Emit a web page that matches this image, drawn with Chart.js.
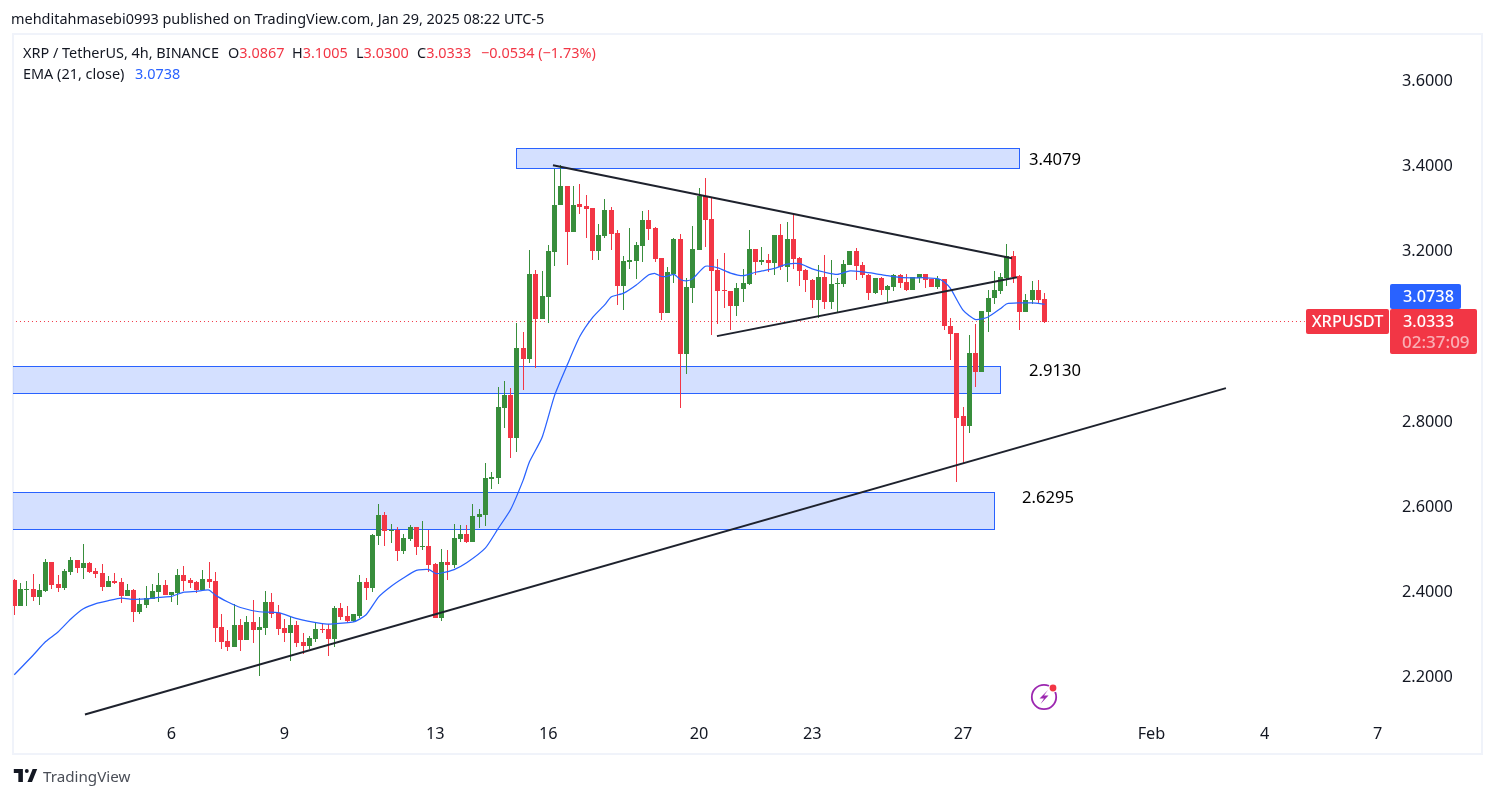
<!DOCTYPE html>
<html>
<head>
<meta charset="utf-8">
<title>XRPUSDT 4h</title>
<script src="https://cdn.jsdelivr.net/npm/chart.js@4/dist/chart.umd.min.js"></script>
<style>
    html, body { margin: 0; padding: 0; background: #fff; overflow: hidden; }
    body { width: 1494px; height: 798px; position: relative; font-family: "Noto Sans", sans-serif; color: #131722; }
    #frame { position: absolute; left: 12px; top: 33px; width: 1467px; height: 718px; border: 2px solid #f0f3fa; }
    #chart { position: absolute; left: 0; top: 0; }
    .txt { position: absolute; white-space: nowrap; font-size: 14.45px; line-height: 18px; }
    .red { color: #f23645; }
    .blue { color: #2962ff; }
    #bolt { position: absolute; left: 1028px; top: 681px; }
    #logo { position: absolute; left: 13px; top: 769px; }
</style>
</head>
<body>
<div id="frame"></div>
<canvas id="chart" width="1494" height="798"></canvas>
<div class="txt" style="left:11px;top:10px">mehditahmasebi0993 published on TradingView.com, Jan 29, 2025 08:22 UTC-5</div>
<div class="txt" style="left:23px;top:44px">XRP / TetherUS, 4h, BINANCE</div>
<div class="txt" style="left:228px;top:44px">O<span class="red">3.0867</span></div>
<div class="txt" style="left:292px;top:44px">H<span class="red">3.1005</span></div>
<div class="txt" style="left:356px;top:44px">L<span class="red">3.0300</span></div>
<div class="txt" style="left:417px;top:44px">C<span class="red">3.0333</span></div>
<div class="txt red" style="left:481px;top:44px">−0.0534 (−1.73%)</div>
<div class="txt" style="left:23px;top:65px">EMA (21, close)</div>
<div class="txt blue" style="left:135px;top:65px">3.0738</div>
<svg id="bolt" width="32" height="32" viewBox="0 0 32 32">
    <circle cx="16" cy="16" r="12.2" fill="none" stroke="#9c27b0" stroke-width="1.8"/>
    <path d="M20 9 L11.5 17.5 L16 17.5 L12.5 23 L20.5 14.5 L16 14.5 Z" fill="#9c27b0"/>
    <circle cx="25" cy="7" r="4.6" fill="#fff"/>
    <circle cx="25" cy="7" r="3.4" fill="#f23645"/>
</svg>
<svg id="logo" width="25" height="13" viewBox="0 0 36 20"><path d="M14 0H0v6h7v14h7V0Z" fill="#131722"/><circle cx="20" cy="3" r="3" fill="#131722"/><path d="M28 20h-7l8-20h7l-8 20Z" fill="#131722"/></svg>
<div class="txt" style="left:43px;top:766px;font-size:15.2px;line-height:20px;color:#4a4e57">TradingView</div>

<script>
// candles, 4h
const opens = [2.426,2.365,2.402,2.405,2.386,2.400,2.468,2.417,2.407,2.445,2.473,2.454,2.466,2.447,2.442,2.409,2.424,2.421,2.388,2.402,
    2.351,2.367,2.381,2.398,2.414,2.391,2.395,2.438,2.426,2.421,2.402,2.428,2.424,2.316,2.283,2.269,2.320,2.285,2.327,2.309,
    2.313,2.374,2.348,2.313,2.301,2.320,2.280,2.271,2.287,2.311,2.311,2.287,2.360,2.341,2.330,2.341,2.421,2.407,2.529,2.578,
    2.541,2.543,2.494,2.522,2.550,2.503,2.506,2.463,2.337,2.468,2.461,2.522,2.534,2.515,2.574,2.578,2.663,2.665,2.830,2.860,
    2.759,2.970,2.945,3.144,3.039,3.090,3.196,3.306,3.351,3.243,3.309,3.304,3.299,3.198,3.233,3.294,3.240,3.116,3.172,3.175,
    3.210,3.271,3.252,3.182,3.053,3.146,3.226,2.956,3.111,3.201,3.327,3.273,3.154,3.107,3.104,3.069,3.109,3.121,3.203,3.172,
    3.177,3.170,3.236,3.161,3.226,3.182,3.154,3.130,3.083,3.137,3.078,3.121,3.121,3.165,3.198,3.165,3.142,3.100,3.135,3.107,
    3.114,3.142,3.125,3.107,3.135,3.144,3.132,3.114,3.132,3.022,3.006,2.811,2.787,2.959,2.914,3.055,3.088,3.104,3.135,3.186,
    3.139,3.055,3.083,3.107,3.0867];
const highs = [2.428,2.419,2.424,2.440,2.417,2.476,2.468,2.438,2.452,2.480,2.473,2.510,2.468,2.454,2.463,2.435,2.442,2.431,2.417,2.405,
    2.384,2.412,2.417,2.442,2.426,2.398,2.452,2.459,2.431,2.424,2.449,2.468,2.445,2.346,2.309,2.370,2.334,2.341,2.379,2.339,
    2.400,2.395,2.367,2.334,2.339,2.330,2.301,2.294,2.327,2.323,2.323,2.365,2.372,2.365,2.346,2.438,2.431,2.534,2.604,2.586,
    2.557,2.550,2.534,2.555,2.550,2.564,2.543,2.466,2.499,2.496,2.557,2.555,2.555,2.604,2.593,2.701,2.679,2.879,2.893,2.877,
    3.029,3.008,3.201,3.154,3.151,3.212,3.391,3.400,3.351,3.351,3.355,3.330,3.299,3.262,3.320,3.301,3.248,3.186,3.252,3.219,
    3.292,3.294,3.255,3.182,3.161,3.229,3.238,3.135,3.257,3.346,3.370,3.323,3.179,3.194,3.104,3.123,3.156,3.248,3.203,3.208,
    3.191,3.236,3.262,3.266,3.287,3.184,3.156,3.132,3.165,3.189,3.177,3.135,3.177,3.200,3.205,3.172,3.144,3.135,3.137,3.118,
    3.144,3.146,3.144,3.137,3.146,3.144,3.132,3.139,3.132,3.041,3.006,2.832,3.001,3.027,3.057,3.107,3.151,3.147,3.215,3.198,
    3.142,3.097,3.128,3.130,3.1005];
const lows = [2.344,2.365,2.365,2.377,2.367,2.398,2.405,2.398,2.402,2.438,2.442,2.428,2.442,2.431,2.400,2.409,2.417,2.372,2.388,2.327,
    2.346,2.360,2.381,2.374,2.391,2.374,2.367,2.400,2.407,2.395,2.402,2.407,2.280,2.264,2.259,2.269,2.259,2.285,2.278,2.201,
    2.297,2.337,2.297,2.280,2.236,2.269,2.252,2.264,2.280,2.301,2.247,2.269,2.332,2.325,2.327,2.337,2.379,2.398,2.508,2.506,
    2.513,2.470,2.487,2.517,2.485,2.496,2.445,2.337,2.330,2.426,2.454,2.515,2.513,2.515,2.548,2.553,2.639,2.651,2.783,2.712,
    2.726,2.872,2.935,2.924,3.039,3.029,3.163,3.306,3.165,3.243,3.285,3.229,3.177,3.177,3.229,3.201,3.071,3.060,3.156,3.132,
    3.172,3.224,3.172,3.036,3.053,3.123,2.830,2.909,3.076,3.201,3.208,3.001,3.027,3.064,3.013,3.046,3.078,3.118,3.142,3.165,
    3.149,3.142,3.154,3.125,3.156,3.116,3.102,3.064,3.041,3.062,3.062,3.053,3.114,3.165,3.130,3.135,3.083,3.097,3.095,3.078,
    3.104,3.111,3.104,3.107,3.123,3.111,3.114,3.109,3.013,2.942,2.656,2.701,2.771,2.879,2.914,3.008,3.074,3.097,3.116,3.123,
    3.013,3.055,3.074,3.074,3.0300];
const closes = [2.365,2.405,2.405,2.386,2.402,2.468,2.414,2.407,2.447,2.473,2.454,2.466,2.445,2.440,2.409,2.424,2.419,2.388,2.402,2.351,
    2.370,2.384,2.400,2.414,2.391,2.398,2.438,2.424,2.419,2.402,2.428,2.421,2.313,2.280,2.269,2.320,2.285,2.327,2.309,2.316,
    2.374,2.346,2.311,2.301,2.320,2.278,2.271,2.290,2.311,2.309,2.287,2.360,2.339,2.330,2.346,2.421,2.407,2.532,2.578,2.541,
    2.543,2.494,2.524,2.550,2.503,2.506,2.461,2.337,2.468,2.461,2.524,2.534,2.515,2.576,2.581,2.665,2.668,2.832,2.860,2.759,
    2.970,2.945,3.144,3.039,3.093,3.198,3.308,3.351,3.243,3.308,3.301,3.297,3.198,3.236,3.294,3.238,3.116,3.175,3.177,3.212,
    3.271,3.250,3.179,3.053,3.149,3.226,2.956,3.114,3.203,3.327,3.271,3.151,3.104,3.104,3.069,3.111,3.123,3.203,3.172,3.177,
    3.170,3.236,3.161,3.226,3.179,3.151,3.130,3.083,3.137,3.078,3.121,3.123,3.168,3.198,3.163,3.142,3.100,3.135,3.107,3.116,
    3.142,3.123,3.107,3.137,3.144,3.130,3.114,3.132,3.022,3.003,2.808,2.787,2.959,2.914,3.057,3.088,3.107,3.137,3.186,3.137,
    3.055,3.085,3.107,3.085,3.0333];

// EMA 21, read every couple of candles
const emaIdx = [0,3,5,7,9,11,13,15,17,19,21,23,25,27,29,31,32,34,36,39,42,45,49,50,54,56,58,60,62,64,66,67,68,70,72,75,77,79,81,82,84,86,88,90,92,94,95,97,99,101,102,103,104,105,106,107,108,110,112,114,116,118,119,121,123,125,127,129,131,133,135,137,139,141,143,145,147,148,149,151,153,155,157,158,160,162,164];
const emaVal = [2.204,2.250,2.282,2.305,2.335,2.359,2.371,2.378,2.384,2.381,2.382,2.386,2.388,2.398,2.400,2.403,2.391,2.375,2.362,2.352,2.350,2.336,2.324,2.323,2.328,2.345,2.387,2.412,2.432,2.449,2.451,2.442,2.443,2.451,2.467,2.502,2.547,2.592,2.661,2.704,2.761,2.860,2.931,2.998,3.042,3.073,3.091,3.100,3.119,3.143,3.146,3.139,3.140,3.144,3.132,3.129,3.134,3.163,3.159,3.147,3.141,3.149,3.152,3.158,3.168,3.169,3.157,3.149,3.144,3.152,3.150,3.146,3.141,3.137,3.136,3.136,3.134,3.126,3.111,3.060,3.038,3.044,3.064,3.075,3.077,3.077,3.0738];

// drawn trend lines: [startIdx, startPrice, endIdx, endPrice]
const trendRising = [11.25, 2.111, 192.85, 2.877];
const trendFalling = [85.74, 3.400, 158.8, 3.182];
const trendTriangle = [111.84, 2.999, 159.6, 3.137];

// supply / demand zones
const zoneStart = [79.85, -1, -1];
const zoneEnd = [159.85, 156.9, 155.9];
const zoneTop = [3.440, 2.928, 2.632];
const zoneBottom = [3.393, 2.865, 2.546];
const zoneText = ['3.4079', '2.9130', '2.6295'];
const zoneTextIdx = [161.5, 161.5, 160.4];
const zoneTextPrice = [3.416, 2.919, 2.621];

const lastPrice = 3.0333;
const lastEma = 3.0738;
const priceLineEnd = 205.4;

const priceTicks = [2.2, 2.4, 2.6, 2.8, 3.2, 3.4, 3.6];
const dayTickIdx = [25, 43, 67, 85, 109, 127, 151, 181, 199, 217];
const dayTickLabels = ['6', '9', '13', '16', '20', '23', '27', 'Feb', '4', '7'];

const GREEN = '#388e3c';
const RED = '#f23645';
const BLUE = '#2962ff';
const LINE = '#1e222d';
const TEXT = '#131722';
const FONT = '"Noto Sans", sans-serif';

const candleColor = closes.map((c, i) => (c >= opens[i] ? GREEN : RED));

function segment(t) {
    return [{ x: t[0], y: t[1] }, { x: t[2], y: t[3] }];
}

function roundRect(ctx, x, y, w, h) {
    ctx.beginPath();
    ctx.roundRect(x, y, w, h, 2);
    ctx.fill();
}

let labelsNudged = false;

const overlays = {
    id: 'overlays',
    beforeDraw(chart) {
        // Noto's middle baseline sits a bit high, push the price labels down once
        if (labelsNudged) return;
        labelsNudged = true;
        chart.scales.y.getLabelItems(chart.chartArea).forEach((item) => { item.textOffset += 1; });
    },
    beforeDatasetsDraw(chart) {
        const { ctx, chartArea, scales: { x, y } } = chart;

        // snap candles to whole pixels like the original renderer
        chart.data.datasets.forEach((ds, n) => {
            if (ds.type === 'line') return;
            chart.getDatasetMeta(n).data.forEach((bar) => {
                bar.x = Math.floor(bar.x) + 0.5;
                const top = Math.round(Math.min(bar.y, bar.base));
                let bottom = Math.round(Math.max(bar.y, bar.base));
                if (bottom === top) bottom = top + 1;
                bar.y = top;
                bar.base = bottom;
            });
        });

        ctx.save();
        ctx.beginPath();
        ctx.rect(chartArea.left, chartArea.top, chartArea.width, chartArea.height);
        ctx.clip();
        zoneTop.forEach((p, i) => {
            const left = Math.round(x.getPixelForValue(zoneStart[i]));
            const right = Math.round(x.getPixelForValue(zoneEnd[i]));
            const top = Math.round(y.getPixelForValue(p));
            const bottom = Math.round(y.getPixelForValue(zoneBottom[i]));
            ctx.fillStyle = 'rgba(41, 98, 255, 0.2)';
            ctx.fillRect(left, top, right - left, bottom - top);
            ctx.strokeStyle = BLUE;
            ctx.lineWidth = 1;
            ctx.strokeRect(left + 0.5, top + 0.5, right - left, bottom - top);
        });
        ctx.restore();
    },
    afterDraw(chart) {
        const { ctx, scales: { x, y } } = chart;
        ctx.save();
        ctx.textBaseline = 'middle';
        ctx.font = '16.6px ' + FONT;

        ctx.fillStyle = '#000';
        ctx.textAlign = 'left';
        zoneText.forEach((t, i) => {
            ctx.fillText(t, x.getPixelForValue(zoneTextIdx[i]), y.getPixelForValue(zoneTextPrice[i]) + 1.5);
        });

        // price axis badges
        const py = Math.floor(y.getPixelForValue(lastPrice));
        ctx.fillStyle = BLUE;
        roundRect(ctx, 1390, py - 37, 71, 25);
        ctx.fillStyle = RED;
        roundRect(ctx, 1306, py - 12, 83, 25);
        roundRect(ctx, 1390, py - 12, 87, 45);

        ctx.font = '500 16.3px ' + FONT;
        ctx.fillStyle = '#fff';
        ctx.fillText(lastEma.toFixed(4), 1403, py - 24);
        ctx.fillText(lastPrice.toFixed(4), 1403, py + 1);
        ctx.textAlign = 'center';
        ctx.fillText('XRPUSDT', 1347.5, py + 1);
        ctx.textAlign = 'left';
        ctx.font = '500 17px ' + FONT;
        ctx.fillStyle = 'rgba(255, 255, 255, 0.6)';
        ctx.fillText('02:37:09', 1402, py + 22);
        ctx.restore();
    }
};

new Chart(document.getElementById('chart'), {
    type: 'bar',
    plugins: [overlays],
    data: {
        datasets: [
            {
                type: 'line',
                data: segment(trendRising),
                borderColor: LINE, borderWidth: 2, pointRadius: 0, order: 0
            },
            {
                type: 'line',
                data: segment(trendFalling),
                borderColor: LINE, borderWidth: 2, pointRadius: 0, order: 0
            },
            {
                type: 'line',
                data: segment(trendTriangle),
                borderColor: LINE, borderWidth: 2, pointRadius: 0, order: 0
            },
            {
                type: 'line',
                data: emaIdx.map((i, n) => ({ x: i, y: emaVal[n] })),
                borderColor: BLUE, borderWidth: 1.25, pointRadius: 0, tension: 0.2, order: 1
            },
            {
                // candle bodies
                data: opens.map((o, i) => ({ x: i, y: [o, closes[i]] })),
                backgroundColor: candleColor,
                barThickness: 5, grouped: false, inflateAmount: 0, order: 2
            },
            {
                // wicks
                data: highs.map((h, i) => ({ x: i, y: [lows[i], h] })),
                backgroundColor: candleColor,
                barThickness: 1, grouped: false, inflateAmount: 0, order: 3
            },
            {
                type: 'line',
                data: [{ x: -1, y: lastPrice }, { x: priceLineEnd, y: lastPrice }],
                borderColor: RED, borderWidth: 1, borderDash: [1, 3], pointRadius: 0, order: 4
            }
        ]
    },
    options: {
        responsive: false,
        animation: false,
        events: [],
        layout: { padding: { left: 13, top: 35, right: 13, bottom: 45 } },
        plugins: { legend: { display: false }, tooltip: { enabled: false } },
        scales: {
            x: {
                type: 'linear',
                offset: false,
                min: -0.2,
                max: 218.96,
                grid: { display: false },
                border: { display: false },
                afterBuildTicks: (s) => { s.ticks = dayTickIdx.map((v) => ({ value: v })); },
                afterFit: (s) => { s.height = 33; },
                ticks: {
                    autoSkip: false,
                    maxRotation: 0,
                    padding: -3,
                    color: TEXT,
                    font: { family: FONT, size: 16.3 },
                    callback: (v) => dayTickLabels[dayTickIdx.indexOf(v)]
                }
            },
            y: {
                position: 'right',
                min: 2.0979,
                max: 3.7059,
                grid: { display: false },
                border: { display: false },
                afterBuildTicks: (s) => { s.ticks = priceTicks.map((v) => ({ value: v })); },
                afterFit: (s) => { s.width = 91; },
                ticks: {
                    autoSkip: false,
                    padding: 4,
                    color: TEXT,
                    font: { family: FONT, size: 16.3 },
                    callback: (v) => v.toFixed(4)
                }
            }
        }
    }
});
</script>
</body>
</html>
